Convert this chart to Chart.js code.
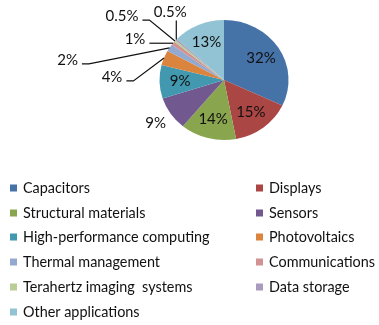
<!DOCTYPE html>
<html>
<head>
<meta charset="utf-8">
<script src="https://cdn.jsdelivr.net/npm/chart.js@4/dist/chart.umd.min.js"></script>
<style>
  html, body { margin: 0; padding: 0; background: #fff; }
  #wrap { position: relative; width: 379px; height: 325px; }
</style>
</head>
<body>
<div id="wrap"><canvas id="pie" width="379" height="325"></canvas></div>
<script>
const categories = [
  'Capacitors',
  'Displays',
  'Structural materials',
  'Sensors',
  'High-performance computing',
  'Photovoltaics',
  'Thermal management',
  'Communications',
  'Terahertz imaging  systems',
  'Data storage',
  'Other applications'
]
const shares = [32, 15, 14, 9, 9, 4, 2, 1, 0.5, 0.5, 13]
const colors = [
  '#4572A7', '#AA4643', '#89A54E', '#71588F', '#4198AF', '#DB843D',
  '#93A9CF', '#D19392', '#B9CD96', '#A99BBD', '#92C3D4'
]

// how far from the centre each label sits, as a fraction of the radius
const insideRatio = 0.68
// labels pulled out of the pie, offset from the slice rim (px)
const callouts = {
  3: { ratio: 1.28 },
  5: { dx: -52, dy: 19, line: 'elbow' },
  6: { dx: -102, dy: 12, line: 'elbow' },
  7: { dx: -38, dy: -4, line: 'elbow' },
  8: { dx: -53, dy: -25, line: 'elbow' },
  9: { dx: -6, dy: -27, line: 'down' }
}

const FONT = 'Lato, "DejaVu Sans", sans-serif'
const TEXT = '#111'
// pie is drawn a little wider than tall
const stretchX = 1.075

const fmt = (v) => v + '%'

const stretchPlugin = {
  id: 'stretch',
  beforeDatasetsDraw(chart) {
    const arc = chart.getDatasetMeta(0).data[0]
    const ctx = chart.ctx
    ctx.save()
    ctx.translate(arc.x, arc.y)
    ctx.scale(stretchX, 1)
    ctx.translate(-arc.x, -arc.y)
  },
  afterDatasetsDraw(chart) {
    chart.ctx.restore()
  }
}

const labelPlugin = {
  id: 'sliceLabels',
  afterDatasetsDraw(chart) {
    const ctx = chart.ctx
    const arcs = chart.getDatasetMeta(0).data
    ctx.save()
    ctx.font = '15px ' + FONT
    ctx.fillStyle = TEXT
    ctx.strokeStyle = '#111'
    ctx.lineWidth = 1.2
    ctx.textAlign = 'center'
    ctx.textBaseline = 'middle'
    arcs.forEach((arc, i) => {
      const mid = (arc.startAngle + arc.endAngle) / 2
      const r = arc.outerRadius
      const at = (k) => ({
        x: arc.x + Math.cos(mid) * r * k * stretchX,
        y: arc.y + Math.sin(mid) * r * k
      })
      const text = fmt(shares[i])
      const c = callouts[i]
      if (!c) {
        const p = at(insideRatio)
        ctx.fillText(text, p.x, p.y)
        return
      }
      if (c.ratio) {
        const p = at(c.ratio)
        ctx.fillText(text, p.x, p.y)
        return
      }
      const rim = at(1)
      const lx = rim.x + c.dx
      const ly = rim.y + c.dy
      const half = ctx.measureText(text).width / 2
      ctx.beginPath()
      if (c.line === 'elbow') {
        const sx = lx + half + 4
        const sy = ly + 4
        ctx.moveTo(sx, sy)
        ctx.lineTo(sx + 7, sy)
        ctx.lineTo(rim.x, rim.y)
      } else {
        ctx.moveTo(rim.x, ly + 8)
        ctx.lineTo(rim.x, rim.y)
      }
      ctx.stroke()
      ctx.fillText(text, lx, ly)
    })
    ctx.restore()
  }
}

// two-column legend under the pie
const legendPlugin = {
  id: 'gridLegend',
  afterDraw(chart) {
    const ctx = chart.ctx
    const colX = [10, 256]
    const top = 188
    const step = 24.7
    ctx.save()
    ctx.font = '14.4px ' + FONT
    ctx.textBaseline = 'middle'
    ctx.textAlign = 'left'
    categories.forEach((name, i) => {
      const x = colX[i % 2]
      const y = Math.round(top + Math.floor(i / 2) * step)
      ctx.fillStyle = colors[i]
      ctx.fillRect(x, y - 3.5, 7, 7)
      ctx.fillStyle = TEXT
      ctx.fillText(name, x + 13, y + 0.5)
    })
    ctx.restore()
  }
}

new Chart(document.getElementById('pie'), {
  type: 'pie',
  data: {
    labels: categories,
    datasets: [{
      data: shares,
      backgroundColor: colors,
      borderWidth: 0,
      hoverOffset: 0,
      radius: 60
    }]
  },
  options: {
    responsive: false,
    animation: false,
    events: [],
    layout: { padding: { top: 20, bottom: 185, left: 104, right: 35 } },
    plugins: {
      legend: { display: false },
      tooltip: { enabled: false }
    }
  },
  plugins: [stretchPlugin, labelPlugin, legendPlugin]
})
</script>
</body>
</html>
